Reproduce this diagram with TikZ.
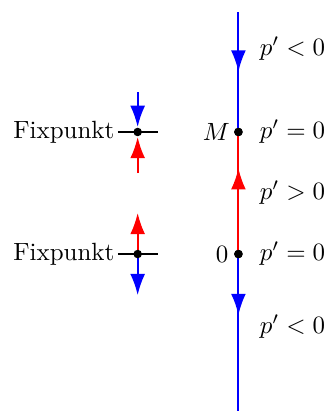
\documentclass[tikz,border=0pt]{standalone}
\usepackage{amsmath,amssymb}
\usetikzlibrary{arrows.meta,positioning}

\begin{document}
\begin{tikzpicture}[thick,
    arr/.style={-{Latex[length=0.3cm,width=0.21cm]}},
    dot/.style={circle,fill=black,inner sep=0pt,minimum size=0.12cm}]
  \useasboundingbox (-3.36,-2.24) rectangle (1.25,3.58);

  % Phase line
  \coordinate (top) at (0,3.41);
  \coordinate (bot) at (0,-2.21);
  \node[dot] (M) at (0,1.72) {};
  \node[dot] (Z) at (0,0) {};
  \coordinate (t1) at (0,2.57);
  \coordinate (t2) at (0,1.21);
  \coordinate (t3) at (0,-0.86);
  \draw[blue] (top) -- (M.center);
  \draw[red] (Z.center) -- (M.center);
  \draw[blue] (Z.center) -- (bot);
  \draw[blue,arr] (top) -- (t1);
  \draw[red,arr] (Z.center) -- (t2);
  \draw[blue,arr] (Z.center) -- (t3);
  \node[dot] at (M) {};
  \node[dot] at (Z) {};
  \node[left=0cm of M, inner sep=1pt] {$M$};
  \node[left=0cm of Z, inner sep=1.5pt] {$0$};

  % Signs of p'
  \node[anchor=west] at (0.17,2.90)  {$p'<0$};
  \node[anchor=west] at (0.17,1.72)  {$p'=0$};
  \node[anchor=west] at (0.17,0.87)  {$p'>0$};
  \node[anchor=west] at (0.17,0)     {$p'=0$};
  \node[anchor=west] at (0.17,-1.02) {$p'<0$};

  % Stable fixed point
  \coordinate (sl) at (-1.70,1.72);
  \coordinate (sr) at (-1.14,1.72);
  \coordinate (su) at (-1.42,2.28);
  \coordinate (sd) at (-1.42,1.14);
  \draw (sl) -- (sr);
  \draw[blue,arr] (su) -- (-1.42,1.79);
  \draw[red,arr] (sd) -- (-1.42,1.65);
  \node[dot] (S) at (-1.42,1.72) {};
  \node[left=0cm of sl, inner sep=1pt] {Fixpunkt};

  % Unstable fixed point
  \coordinate (ul) at (-1.70,0);
  \coordinate (ur) at (-1.14,0);
  \coordinate (uu) at (-1.42,0.58);
  \coordinate (ud) at (-1.42,-0.58);
  \coordinate (uc) at (-1.42,0);
  \draw (ul) -- (ur);
  \draw[red,arr] (uc) -- (uu);
  \draw[blue,arr] (uc) -- (ud);
  \node[dot] (U) at (uc) {};
  \node[left=0cm of ul, inner sep=1pt] {Fixpunkt};
\end{tikzpicture}
\end{document}
